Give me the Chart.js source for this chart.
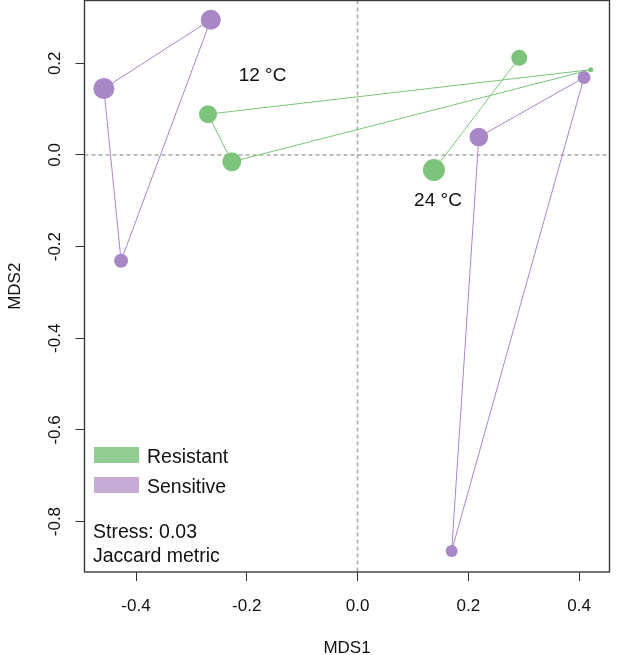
<!DOCTYPE html>
<html><head><meta charset="utf-8">
<script src="https://cdn.jsdelivr.net/npm/chart.js@4.4.1/dist/chart.umd.min.js"></script>
<style>html,body{margin:0;padding:0;background:#fff;}#wrap{width:617px;height:655px;}</style>
</head><body><div id="wrap"><canvas id="c" width="617" height="655"></canvas></div>
<script>
// ---- data ----
const xTicks = [-0.4, -0.2, 0.0, 0.2, 0.4];
const yTicks = [-0.8, -0.6, -0.4, -0.2, 0.0, 0.2];
const legendLabels = ['Resistant', 'Sensitive'];
const groupLabels = ['12 \u00B0C', '24 \u00B0C'];
const statsLines = ['Stress: 0.03', 'Jaccard metric'];
// Sensitive (purple) site scores
const sensX = [-0.265, -0.458, -0.427, 0.219, 0.409, 0.170];
const sensY = [0.295, 0.145, -0.231, 0.039, 0.169, -0.864];
// Resistant (green) site scores
const resX = [-0.270, -0.227, 0.421, 0.292, 0.138];
const resY = [0.089, -0.015, 0.186, 0.212, -0.033];
// hull membership (indices into the arrays above)
const sens12Hull = [1, 0, 2, 1];
const sens24Hull = [3, 4, 5, 3];
const res12Hull = [0, 2, 1, 0];
const res24Hull = [3, 4];

// ---- styles ----
const PURPLE = '#a987c7', GREEN = '#7cc47c';
const PURPLE_L = '#c4acd7', GREEN_L = '#94cd94';
const sensRadius = [10, 10.5, 7, 9.3, 6.5, 6];
const resRadius = [9, 9.5, 2.5, 8, 11];
const FONT = "'Liberation Sans', Arial, Helvetica, sans-serif";

const pts = (xs, ys) => xs.map((x, i) => ({x: x, y: ys[i]}));
const hull = (xs, ys, idx) => idx.map(i => ({x: xs[i], y: ys[i]}));

const lineDs = (data, color) => ({data, showLine: true, pointRadius: 0, borderColor: color,
  borderWidth: 1, backgroundColor: color, tension: 0, order: 1});

const decor = {
  id: 'decor',
  beforeDatasetsDraw(chart) {
    const {ctx, chartArea: a, scales: {x, y}} = chart;
    ctx.save();
    ctx.strokeStyle = '#aaaaaa';
    ctx.lineWidth = 1.6;
    ctx.setLineDash([4, 3]);
    const x0 = x.getPixelForValue(0), y0 = y.getPixelForValue(0);
    ctx.beginPath(); ctx.moveTo(x0, a.top); ctx.lineTo(x0, a.bottom); ctx.stroke();
    ctx.beginPath(); ctx.moveTo(a.left, y0); ctx.lineTo(a.right, y0); ctx.stroke();
    ctx.restore();
  },
  afterDraw(chart) {
    const {ctx, chartArea: a, scales: {x, y}} = chart;
    ctx.save();
    // box
    ctx.strokeStyle = '#3a3a3a';
    ctx.lineWidth = 1.4;
    ctx.strokeRect(a.left, a.top, a.right - a.left, a.bottom - a.top);
    ctx.fillStyle = '#111';
    // x tick labels
    const ts = 17;
    ctx.font = ts + 'px ' + FONT;
    ctx.textAlign = 'center';
    ctx.textBaseline = 'alphabetic';
    xTicks.forEach(v => {
      ctx.fillText(v.toFixed(1), x.getPixelForValue(v), 604.5 + 0.358 * ts);
    });
    // y tick labels (rotated)
    yTicks.forEach(v => {
      ctx.save();
      ctx.translate(54 + 0.358 * ts, y.getPixelForValue(v));
      ctx.rotate(-Math.PI / 2);
      ctx.fillText(v.toFixed(1), 0, 0);
      ctx.restore();
    });
    // axis titles
    ctx.fillText('MDS1', (a.left + a.right) / 2, 647 + 0.358 * ts);
    ctx.save();
    ctx.translate(13.5 + 0.358 * ts, (a.top + a.bottom) / 2);
    ctx.rotate(-Math.PI / 2);
    ctx.fillText('MDS2', 0, 0);
    ctx.restore();
    // group labels
    const gs = 19;
    ctx.font = gs + 'px ' + FONT;
    ctx.fillText(groupLabels[0], x.getPixelForValue(-0.1715), y.getPixelForValue(0.177) + 0.358 * gs);
    ctx.fillText(groupLabels[1], x.getPixelForValue(0.1453), y.getPixelForValue(-0.096) + 0.358 * gs);
    // legend
    const ls = 19.5;
    ctx.font = ls + 'px ' + FONT;
    ctx.textAlign = 'left';
    const lx = a.left + 9.5;
    [GREEN_L, PURPLE_L].forEach((c, i) => {
      const top = 447 + i * 30;
      ctx.fillStyle = c;
      ctx.fillRect(lx, top, 45, 16);
      ctx.fillStyle = '#111';
      ctx.fillText(legendLabels[i], lx + 53, top + 9 + 0.358 * ls);
    });
    statsLines.forEach((t, i) => {
      ctx.fillText(t, a.left + 8.5, 531 + i * 24.5 + 0.358 * ls);
    });
    ctx.restore();
  }
};

new Chart(document.getElementById('c'), {
  type: 'scatter',
  data: {
    datasets: [
      {data: pts(sensX, sensY), pointRadius: sensRadius, backgroundColor: PURPLE,
       borderWidth: 0, pointBorderWidth: 0, showLine: false, order: 0},
      {data: pts(resX, resY), pointRadius: resRadius, backgroundColor: GREEN,
       borderWidth: 0, pointBorderWidth: 0, showLine: false, order: 0},
      lineDs(hull(sensX, sensY, sens12Hull), PURPLE),
      lineDs(hull(sensX, sensY, sens24Hull), PURPLE),
      lineDs(hull(resX, resY, res12Hull), GREEN),
      lineDs(hull(resX, resY, res24Hull), GREEN)
    ]
  },
  options: {
    responsive: false,
    animation: false,
    events: [],
    layout: {autoPadding: false, padding: {left: 0, right: 7.5, top: 0.5, bottom: 0}},
    plugins: {legend: {display: false}, tooltip: {enabled: false}},
    scales: {
      x: {
        type: 'linear', position: 'bottom', min: -0.493, max: 0.455,
        grid: {display: true, drawOnChartArea: false, drawTicks: true, tickLength: 9, color: '#333', lineWidth: 1},
        border: {display: false},
        ticks: {display: false},
        afterBuildTicks: s => { s.ticks = xTicks.map(v => ({value: v})); },
        afterFit: s => { s.height = 83; }
      },
      y: {
        type: 'linear', position: 'left', min: -0.910, max: 0.337,
        grid: {display: true, drawOnChartArea: false, drawTicks: true, tickLength: 9, color: '#333', lineWidth: 1},
        border: {display: false},
        ticks: {display: false},
        afterBuildTicks: s => { s.ticks = yTicks.map(v => ({value: v})); },
        afterFit: s => { s.width = 84.5; }
      }
    }
  },
  plugins: [decor]
});
</script>
</body></html>
